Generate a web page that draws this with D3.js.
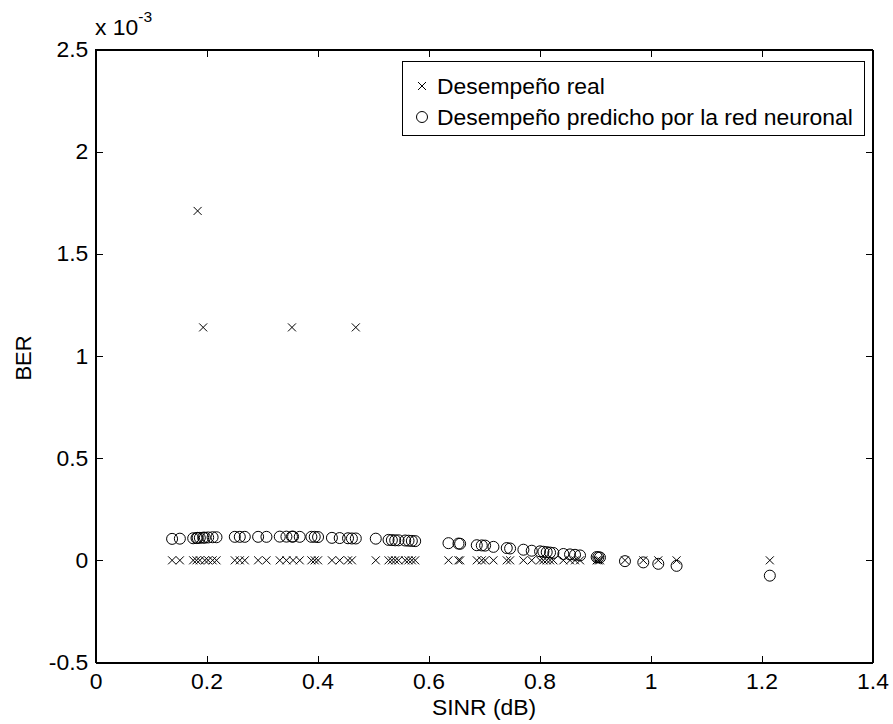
<!DOCTYPE html>
<html lang="es">
<head>
  <meta charset="UTF-8">
  <title>BER vs SINR</title>
  <style>
    *{margin:0;padding:0}
    body{background:#fff;width:893px;height:724px;overflow:hidden}
    svg{display:block}
    text{font-family:'Liberation Sans',Arial,Helvetica,sans-serif;fill:#000}
  </style>
  <script src="https://d3js.org/d3.v7.min.js"></script>
</head>
<body>
  <div id="chart"></div>
  <script>
    /* ---------- DATA (BER in units of 1e-3) ---------- */
    const sinr = [0.138,0.152,0.176,0.182,0.184,0.188,0.194,0.197,0.203,0.211,0.218,
                  0.251,0.260,0.269,0.293,0.308,0.332,0.344,0.354,0.356,0.368,0.389,0.395,0.401,
                  0.426,0.440,0.455,0.462,0.469,0.505,0.528,0.534,0.540,0.546,0.558,0.564,0.570,0.576,
                  0.636,0.654,0.657,0.687,0.696,0.702,0.717,0.741,0.747,0.771,0.786,
                  0.801,0.807,0.813,0.819,0.825,0.843,0.855,0.864,0.873,0.903,0.906,0.909,
                  0.954,0.987,1.014,1.047,1.215];
    const berReal = [0,0,0,0,1.71,0,1.14,0,0,0,0,
                     0,0,0,0,0,0,0,1.14,0,0,0,0,0,
                     0,0,0,0,1.14,0,0,0,0,0,0,0,0,0,
                     0,0,0,0,0,0,0,0,0,0,0,
                     0,0,0,0,0,0,0,0,0,0,0,0,
                     0,0,0,0,0];
    const berPred = [0.105,0.106,0.108,0.109,0.110,0.110,0.111,0.111,0.112,0.113,0.113,
                     0.115,0.115,0.115,0.115,0.115,0.116,0.116,0.116,0.116,0.115,0.115,0.115,0.114,
                     0.110,0.109,0.108,0.107,0.107,0.106,0.100,0.099,0.098,0.098,0.097,0.096,0.095,0.094,
                     0.084,0.082,0.081,0.074,0.073,0.072,0.066,0.060,0.058,0.052,0.047,
                     0.044,0.042,0.040,0.038,0.036,0.031,0.029,0.027,0.024,0.016,0.015,0.014,
                     -0.004,-0.010,-0.017,-0.027,-0.075];
    const xTicks = [0,0.2,0.4,0.6,0.8,1,1.2,1.4];
    const yTicks = [-0.5,0,0.5,1,1.5,2,2.5];
    const legendLabels = ['Desempeño real','Desempeño predicho por la red neuronal'];

    /* ---------- LAYOUT ---------- */
    const W=893,H=724;
    const FS=22, SX=1.04;   // font size + slight horizontal stretch of the original text
    const x=d3.scaleLinear().domain([0,1.4]).range([95.5,872.5]);
    const y=d3.scaleLinear().domain([-0.5,2.5]).range([662.5,49.5]);

    const svg=d3.select('#chart').append('svg').attr('width',W).attr('height',H);
    svg.append('rect').attr('width',W).attr('height',H).attr('fill','#fff');

    const stretch=sel=>sel.attr('transform',`scale(${SX},1)`);

    /* ---- axes (ticks inside, mirrored on top/right) ---- */
    const fmt=d=>String(d);
    const gx=svg.append('g').attr('transform',`translate(0,${y.range()[0]})`)
      .call(d3.axisBottom(x).tickValues(xTicks).tickFormat(fmt).tickSizeInner(-7).tickSizeOuter(0).tickPadding(10.5));
    const gy=svg.append('g').attr('transform',`translate(${x.range()[0]},0)`)
      .call(d3.axisLeft(y).tickValues(yTicks).tickFormat(fmt).tickSizeInner(-7).tickSizeOuter(0).tickPadding(7));
    const gt=svg.append('g').attr('transform',`translate(0,${y.range()[1]})`)
      .call(d3.axisTop(x).tickValues(xTicks).tickFormat('').tickSizeInner(-7).tickSizeOuter(0));
    const gr=svg.append('g').attr('transform',`translate(${x.range()[1]},0)`)
      .call(d3.axisRight(y).tickValues(yTicks).tickFormat('').tickSizeInner(-7).tickSizeOuter(0));
    [gx,gy,gt,gr].forEach(g=>{
      g.selectAll('path,line').attr('stroke','#000').attr('stroke-width',1).attr('shape-rendering','crispEdges');
      g.selectAll('text').attr('font-size',FS).attr('font-family',null).attr('fill','#000');
    });
    gx.selectAll('text').attr('dy','0.71em').call(stretch);
    gy.selectAll('text').call(stretch);
    svg.append('rect').attr('x',x.range()[0]).attr('y',y.range()[1])
       .attr('width',x.range()[1]-x.range()[0]).attr('height',y.range()[0]-y.range()[1])
       .attr('fill','none').attr('stroke','#000').attr('shape-rendering','crispEdges');

    /* ---- exponent label ---- */
    const ex=svg.append('text').attr('transform',`translate(95,35) scale(${SX},1)`).attr('font-size',FS);
    ex.append('tspan').text('x 10');
    ex.append('tspan').attr('font-size',15).attr('dy',-13).text('-3');

    /* ---- axis titles ---- */
    svg.append('text').attr('transform',`translate(484,715) scale(${SX},1)`)
       .attr('text-anchor','middle').attr('font-size',FS).text('SINR (dB)');
    svg.append('text').attr('transform',`translate(31,358) scale(${SX},1) rotate(-90)`)
       .attr('text-anchor','middle').attr('font-size',FS).text('BER');

    /* ---- markers ---- */
    const cross='M-4,-4L4,4M4,-4L-4,4';
    const plot=svg.append('g').attr('fill','none').attr('stroke','#000').attr('stroke-width',1);
    plot.selectAll('circle').data(sinr).join('circle')
        .attr('cx',(d)=>x(d)).attr('cy',(d,i)=>y(berPred[i])).attr('r',5.5);
    plot.selectAll('path').data(sinr).join('path')
        .attr('transform',(d,i)=>`translate(${x(d)},${y(berReal[i])})`).attr('d',cross);

    /* ---- legend ---- */
    const lg=svg.append('g');
    lg.append('rect').attr('x',402.5).attr('y',61.5).attr('width',462).attr('height',74)
      .attr('fill','#fff').attr('stroke','#000').attr('shape-rendering','crispEdges');
    lg.append('path').attr('transform','translate(422,86)').attr('d',cross).attr('stroke','#000').attr('fill','none');
    lg.append('circle').attr('cx',422).attr('cy',117).attr('r',5.5).attr('stroke','#000').attr('fill','none');
    lg.selectAll('text.lab').data(legendLabels).join('text').attr('class','lab')
      .attr('transform',(d,i)=>`translate(437,${94+i*31}) scale(${SX},1)`)
      .attr('font-size',FS).text(d=>d);
  </script>
</body>
</html>
